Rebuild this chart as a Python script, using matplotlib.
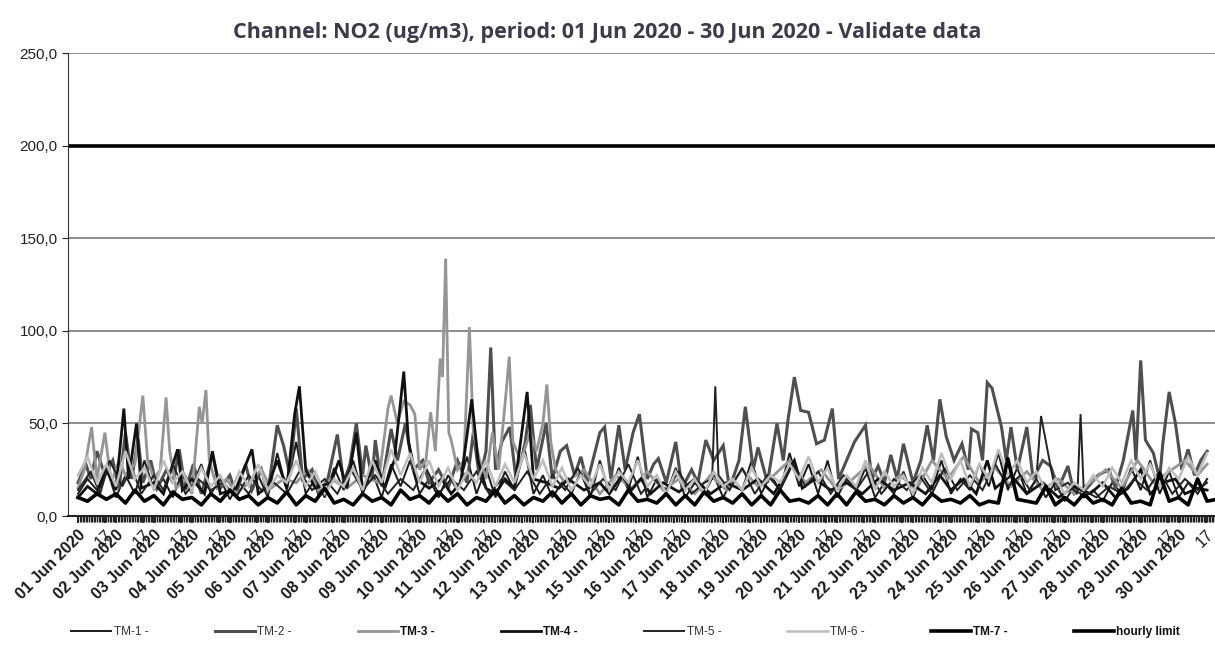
import matplotlib
matplotlib.use('Agg')
import matplotlib.pyplot as plt
from matplotlib.ticker import FuncFormatter, MultipleLocator

plt.rcParams['font.family'] = ['Liberation Sans', 'DejaVu Sans']

# --- Data: (hour since 01 Jun 00:00, NO2 ug/m3) vertices ---
day_labels = [f"{d:02d} Jun 2020" for d in range(1, 31)]
hourly_limit = 200.0

tm1_points = [(0,12),(6,20),(12,14),(18,26),(24,10),(30,22),(36,12),(42,30),(48,14),(54,20),(60,10),(66,24),
              (72,16),(78,28),(84,12),(90,20),(96,9),(102,18),(108,12),(114,22),(120,10),(126,34),(132,14),
              (138,40),(144,12),(150,20),(156,10),(162,26),(168,14),(174,30),(180,12),(186,24),(192,10),
              (198,28),(204,16),(210,30),(216,12),(222,20),(228,10),(234,22),(240,14),(246,32),(252,12),
              (258,26),(264,10),(270,24),(276,14),(282,38),(288,12),(294,22),(300,10),(306,18),(312,12),
              (318,24),(324,10),(330,30),(336,12),(342,26),(348,14),(354,32),(360,10),(366,20),(372,12),
              (378,26),(384,10),(390,18),(396,12),(402,22),(408,10),(414,20),(420,14),(426,30),(432,12),
              (438,22),(444,14),(450,34),(456,16),(462,28),(468,12),(474,30),(480,10),(486,20),(492,14),
              (498,26),(504,10),(510,18),(516,12),(522,24),(528,10),(534,22),(540,14),(546,30),(552,12),
              (558,20),(564,14),(570,28),(576,16),(582,34),(588,14),(594,26),(600,12),(606,20),(612,10),
              (618,18),(624,8),(630,16),(636,10),(642,14),(648,8),(654,18),(660,12),(666,26),(672,14),
              (678,30),(684,12),(690,24),(696,10),(702,18),(708,12),(714,20)]

tm2_points = [(0,18),(5,28),(8,20),(12,35),(17,22),(22,30),(26,15),(30,45),(34,20),(38,42),(41,18),(46,30),
              (50,15),(56,25),(60,18),(64,36),(68,14),(73,28),(78,12),(85,33),(90,15),(96,22),(100,12),
              (106,28),(110,14),(116,25),(120,12),(126,49),(130,38),(134,22),(138,58),(142,20),(148,25),
              (152,12),(158,20),(164,44),(168,18),(172,28),(176,50),(180,22),(182,38),(186,20),(188,41),
              (192,16),(198,47),(202,30),(207,50),(212,25),(218,30),(222,18),(228,25),(234,15),(240,30),
              (246,18),(250,45),(254,20),(258,35),(261,91),(264,25),(268,40),(273,48),(277,20),(282,35),
              (286,60),(290,25),(296,50),(300,20),(305,35),(309,38),(314,22),(318,32),(322,18),(330,45),
              (333,48),(337,20),(342,49),(346,25),(351,45),(355,55),(360,20),(364,28),(367,31),(372,18),
              (378,40),(382,15),(388,25),(392,18),(397,41),(402,30),(408,38),(412,15),(418,30),(422,59),
              (427,25),(430,37),(436,18),(442,50),(446,30),(449,52),(453,75),(457,57),(462,56),(467,39),
              (472,41),(477,58),(481,20),(486,30),(491,40),(498,49),(502,20),(506,27),(510,18),(514,33),
              (518,20),(522,39),(528,18),(533,30),(537,49),(541,30),(545,63),(549,43),(554,30),(559,39),
              (563,25),(565,47),(569,45),(572,30),(575,72),(578,69),(584,48),(587,30),(590,48),(594,25),
              (600,48),(604,20),(610,30),(615,27),(620,15),(626,27),(630,12),(638,15),(645,22),(652,25),
              (656,15),(661,30),(667,57),(669,30),(672,84),(675,41),(680,34),(684,20),(686,39),(690,67),
              (694,50),(698,25),(702,36),(706,22),(710,30),(714,35)]

tm3_points = [(0,15),(4,25),(8.6,48),(12,20),(17,45),(21,18),(26,30),(30,22),(36,28),(41,65),(44,30),(48,20),
              (52,25),(55.7,64),(58,35),(62,15),(68,20),(72,12),(76.7,59),(78.5,50),(80.9,68),(83,30),(88,15),
              (94,20),(100,12),(108,18),(116,25),(122,15),(130,20),(138,18),(145,25),(152,14),(160,20),
              (170,15),(180,22),(190,18),(196,58),(198,65),(202,50),(206,62),(210,60),(213,55),(216,25),
              (220,30),(223,56),(226,35),(229,85),(230.5,75),(232.5,139),(234.5,45),(236,41),(240,25),
              (244,30),(247.5,102),(250,45),(254,30),(258,20),(262,45),(266,25),(270,60),(272.7,86),(275,40),
              (280,30),(286,45),(290,35),(294,50),(296.5,71),(299,40),(302,25),(308,18),(320,25),(330,12),
              (340,22),(350,15),(360,24),(370,14),(380,20),(390,12),(400,22),(410,14),(420,25),(430,16),
              (440,22),(450,30),(460,18),(470,25),(480,14),(490,20),(500,28),(510,15),(520,22),(530,14),
              (540,30),(550,20),(560,32),(570,18),(580,26),(590,16),(600,24),(610,14),(620,20),(630,12),
              (640,18),(650,25),(660,15),(670,30),(680,18),(690,24),(700,30),(708,22),(714,28)]

tm4_points = [(0,10),(6,16),(12,12),(18,25),(24,14),(29,58),(32,20),(37,50),(40,15),(48,18),(54,12),(63,36),
              (66,14),(72,20),(80,12),(85,35),(90,12),(100,15),(110,36),(114,12),(120,16),(126,30),(132,15),
              (137,55),(140,70),(144,25),(150,15),(160,18),(165,30),(170,15),(176,45),(180,14),(188,30),
              (194,15),(200,30),(206,78),(209,40),(214,20),(222,15),(230,20),(236,12),(242,18),(249,63),
              (253,30),(258,15),(264,12),(270,20),(276,15),(284,67),(288,20),(296,18),(304,15),(310,20),
              (320,14),(330,18),(336,12),(344,22),(350,14),(356,20),(362,12),(370,18),(380,13),(390,20),
              (400,12),(410,18),(420,14),(430,20),(440,12),(453,30),(458,15),(466,20),(476,14),(486,18),
              (496,12),(506,20),(516,14),(526,18),(536,12),(545,22),(552,14),(560,20),(568,12),(575,30),
              (580,15),(590,22),(600,12),(610,18),(620,10),(630,16),(640,12),(648,18),(656,10),(664,15),
              (672,25),(678,12),(686,18),(694,20),(700,12),(708,15),(714,14)]

tm5_points = [(0,14),(8,24),(14,12),(20,30),(28,16),(34,26),(40,12),(48,22),(54,14),(60,28),(68,12),(76,20),
              (84,14),(92,18),(100,10),(108,22),(116,14),(124,18),(132,12),(140,24),(148,14),(156,20),
              (164,12),(172,26),(180,14),(188,22),(196,12),(204,20),(212,14),(220,26),(228,12),(236,20),
              (244,14),(252,24),(260,12),(268,20),(276,14),(284,24),(292,12),(300,22),(308,14),(316,26),
              (324,12),(332,20),(340,14),(348,28),(356,12),(364,20),(372,14),(380,24),(388,12),(396,18),
              (401,20),(403,70),(405,22),(412,14),(420,26),(428,12),(436,22),(444,14),(452,28),(460,16),
              (468,24),(476,12),(484,22),(492,14),(500,24),(508,12),(516,20),(524,14),(532,22),(540,12),
              (548,26),(556,14),(564,22),(572,14),(580,28),(588,16),(596,22),(602,14),(606,20),(609,54),
              (615,27),(618,14),(626,18),(632,12),(634,55),(636,14),(644,10),(652,16),(660,12),(668,20),
              (676,14),(684,24),(692,12),(700,20),(708,14),(714,18)]

tm6_points = [(0,22),(6,32),(12,18),(18,28),(24,16),(30,35),(36,20),(42,26),(48,14),(54,30),(60,18),(66,24),
              (72,14),(78,26),(84,16),(90,22),(96,12),(102,24),(108,16),(114,28),(120,14),(126,22),(132,18),
              (138,30),(144,16),(150,24),(156,12),(162,20),(168,16),(174,26),(180,14),(186,30),(192,18),
              (198,36),(204,22),(210,34),(216,18),(222,30),(228,16),(234,26),(240,14),(246,24),(252,18),
              (258,30),(264,16),(270,28),(276,18),(282,34),(288,20),(294,30),(300,16),(306,26),(312,14),
              (318,22),(324,16),(330,28),(336,14),(342,24),(348,18),(354,30),(360,16),(366,22),(372,12),
              (378,24),(384,14),(390,20),(396,12),(402,24),(408,16),(414,20),(420,14),(426,26),(432,16),
              (438,22),(444,18),(450,28),(456,20),(462,32),(468,18),(474,26),(480,14),(486,22),(492,16),
              (498,30),(504,14),(510,24),(516,16),(522,22),(528,12),(534,26),(540,18),(546,34),(552,20),
              (558,30),(564,16),(570,28),(576,20),(582,36),(588,22),(594,30),(600,18),(606,24),(612,14),
              (618,20),(624,12),(630,18),(636,14),(642,22),(648,16),(654,26),(660,18),(666,30),(672,20),
              (678,28),(684,16),(690,26),(696,20),(702,32),(708,22),(714,34)]

# TM-7: 6-hourly values starting 01 Jun 00:00
tm7_values = [10,8,12,9, 12,7,14,8, 11,6,13,9, 10,6,12,8, 14,9,11,6, 10,7,13,6, 11,8,15,7, 9,6,12,8,
              10,6,14,9, 11,7,13,8, 12,6,10,8, 14,7,11,6, 10,8,13,7, 12,6,11,9, 10,6,14,8, 9,7,12,6,
              11,6,13,8, 10,7,12,6, 11,6,14,8, 9,7,11,6, 12,6,13,8, 9,6,11,7, 10,6,12,8, 9,7,11,6,
              8,7,31,9, 8,7,16,6, 10,6,12,7, 9,6,15,7, 8,6,23,8, 10,6,20,8, 9]

series = [
    ("TM-1 -", tm1_points, dict(color='#1a1a1a', lw=1.4)),
    ("TM-2 -", tm2_points, dict(color='#4f4f4f', lw=2.2)),
    ("TM-3 -", tm3_points, dict(color='#959595', lw=2.0)),
    ("TM-4 -", tm4_points, dict(color='#111111', lw=2.0)),
    ("TM-5 -", tm5_points, dict(color='#222222', lw=1.4)),
    ("TM-6 -", tm6_points, dict(color='#bdbdbd', lw=1.8)),
]

fig = plt.figure(figsize=(12.15, 6.57), dpi=100)
ax = fig.add_axes([0.056, 0.2146, 0.944, 0.7047])

for label, pts, style in series:
    hrs, vals = zip(*pts)
    ax.plot(hrs, vals, label=label, solid_joinstyle='miter', **style)

tm7_hours = [6 * i for i in range(len(tm7_values))]
ax.plot(tm7_hours, tm7_values, color='black', lw=2.6, label="TM-7 -")
ax.plot([-10, 730], [hourly_limit, hourly_limit], color='black', lw=2.6, label="hourly limit")

ax.set_xlim(-6.3, 714.4)
ax.set_ylim(0, 250)

# y axis
ax.yaxis.set_major_locator(MultipleLocator(50))
ax.yaxis.set_major_formatter(FuncFormatter(lambda v, p: f"{v:.1f}".replace('.', ',')))
ax.tick_params(axis='y', labelsize=11, length=4, colors='#222222')
for yv in [50, 100, 150, 250]:
    ax.axhline(yv, color='#6e6e6e', lw=1.1, zorder=0)

# x axis: date tick + "17" tick per day, hourly minor ticks
pos, labs = [], []
for d, lab in enumerate(day_labels):
    pos += [24 * d, 24 * d + 17]
    labs += [lab, "17"]
ax.set_xticks(pos)
ax.set_xticklabels(labs)
for i, t in enumerate(ax.get_xticklabels()):
    t.set_rotation(45)
    t.set_ha('right')
    t.set_va('top')
    t.set_rotation_mode('anchor')
    t.set_fontsize(11.5)
    t.set_color('#1a1a1a')
    if i % 2 == 0:
        t.set_fontweight('bold')
ax.set_xticks(range(0, 720), minor=True)
ax.tick_params(axis='x', which='major', length=5, width=1.2, pad=3)
ax.tick_params(axis='x', which='minor', length=4, width=1.0, color='#222222')

for s in ['top', 'right']:
    ax.spines[s].set_visible(False)
ax.spines['left'].set_color('#333333')
ax.spines['bottom'].set_color('#222222')
ax.spines['bottom'].set_linewidth(1.5)

fig.suptitle("Channel: NO2 (ug/m3), period: 01 Jun 2020 - 30 Jun 2020 - Validate data",
             x=0.5, y=0.951, va='center', fontsize=15.5, fontweight='bold', color='#3b3b4b',
             family=['Open Sans', 'DejaVu Sans'])

leg = fig.legend(loc='center', bbox_to_anchor=(0.515, 0.038), ncol=8, frameon=False,
                 fontsize=8.5, handlelength=3.4, columnspacing=5.6, handletextpad=0.2)
for i, t in enumerate(leg.get_texts()):
    t.set_color('#333333')
    if i in (2, 3, 6, 7):
        t.set_fontweight('bold')
        t.set_color('#111111')

fig.savefig("out.png", dpi=100)
